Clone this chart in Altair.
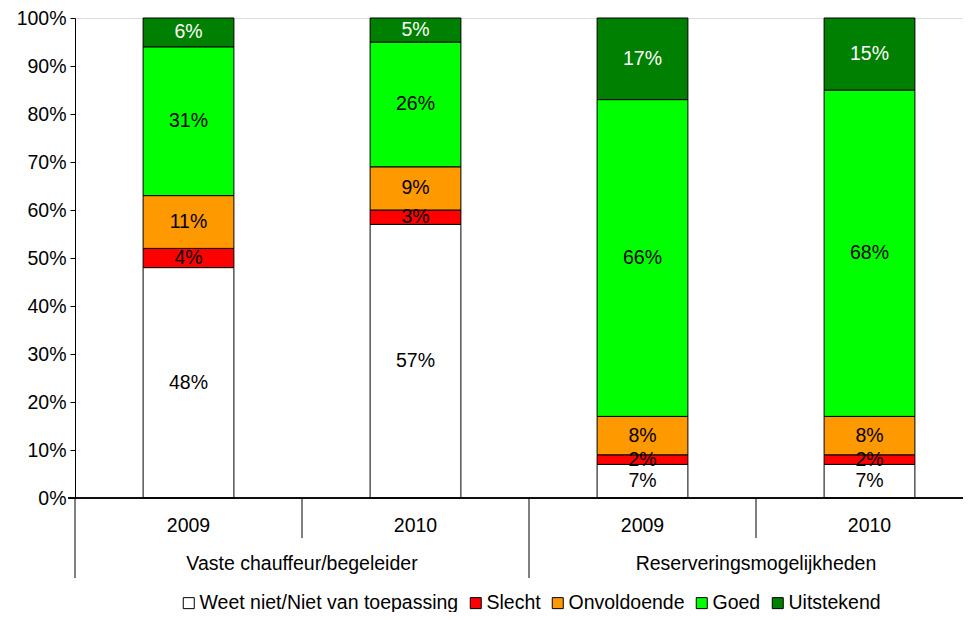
import altair as alt
import pandas as pd

groups = ["Vaste chauffeur/begeleider", "Vaste chauffeur/begeleider",
          "Reserveringsmogelijkheden", "Reserveringsmogelijkheden"]
years = ["2009", "2010", "2009", "2010"]
categories = ["Weet niet/Niet van toepassing", "Slecht", "Onvoldoende", "Goed", "Uitstekend"]
colors = ["#FFFFFF", "#FF0000", "#FF9900", "#00FF00", "#008000"]
text_colors = ["black", "black", "black", "black", "white"]

weet_niet = [48, 57, 7, 7]
slecht = [4, 3, 2, 2]
onvoldoende = [11, 9, 8, 8]
goed = [31, 26, 66, 68]
uitstekend = [6, 5, 17, 15]

series = [weet_niet, slecht, onvoldoende, goed, uitstekend]

rows = []
for i in range(4):
    for c, vals in enumerate(series):
        rows.append({
            "slot": i, "center": i + 0.5, "left": i + 0.3, "right": i + 0.7,
            "year": years[i], "group": groups[i],
            "cat": categories[c], "order": c, "value": vals[i],
            "label": f"{vals[i]}%", "tcol": text_colors[c],
        })
df = pd.DataFrame(rows)

long_sep = pd.DataFrame({"pos": [0, 2]})
short_sep = pd.DataFrame({"pos": [1, 3]})

year_df = pd.DataFrame({"center": [i + 0.5 for i in range(4)], "year": years})
group_df = pd.DataFrame({"center": [1.0, 3.0],
                         "group": ["Vaste chauffeur/begeleider", "Reserveringsmogelijkheden"]})

W, H = 888, 480
SLOT = 227.0
xscale = alt.Scale(domain=[0, W / SLOT], nice=False, zero=False)
yscale = alt.Scale(domain=[0, 100], nice=False)
FONT = "Liberation Sans"
FS = 19.5

yaxis = alt.Axis(values=list(range(0, 101, 10)), labelExpr="datum.value + '%'",
                 grid=False, tickSize=5, tickColor="black", domainColor="black",
                 labelColor="black", labelFontSize=FS, labelFont=FONT,
                 labelPadding=4, title=None, tickWidth=1, domainWidth=1)

base = alt.Chart(df).transform_stack(
    stack="value", groupby=["slot"], as_=["y0", "y1"],
    sort=[alt.SortField("order", order="ascending")]
)

bars = base.mark_bar(stroke="black", strokeWidth=1).encode(
    x=alt.X("left:Q", scale=xscale, axis=None),
    x2="right:Q",
    y=alt.Y("y0:Q", scale=yscale, axis=yaxis),
    y2="y1:Q",
    color=alt.Color("cat:N", scale=alt.Scale(domain=categories, range=colors),
                    legend=alt.Legend(title=None, orient="none", legendX=104, legendY=575,
                                      padding=0, labelLimit=500,
                                      direction="horizontal", symbolType="square",
                                      symbolSize=121, symbolStrokeColor="black",
                                      symbolStrokeWidth=1, labelFontSize=FS, labelFont=FONT,
                                      labelColor="black", columnPadding=7, labelOffset=1)),
)

labels = base.transform_calculate(mid="(datum.y0 + datum.y1) / 2").mark_text(
    fontSize=FS, font=FONT, baseline="middle"
).encode(
    x=alt.X("center:Q", scale=xscale, axis=None),
    y=alt.Y("mid:Q", scale=yscale, axis=yaxis),
    text="label:N",
    color=alt.Color("tcol:N", scale=None),
)

xline = alt.Chart(year_df).mark_rule(color="black", strokeWidth=1).encode(
    x=alt.value(-7), x2=alt.value(W), y=alt.value(H)
)

seps_long = alt.Chart(long_sep).mark_rule(color="black", strokeWidth=1).encode(
    x=alt.X("pos:Q", scale=xscale, axis=None), y=alt.value(H), y2=alt.value(H + 80)
)
seps_short = alt.Chart(short_sep).mark_rule(color="black", strokeWidth=1).encode(
    x=alt.X("pos:Q", scale=xscale, axis=None), y=alt.value(H), y2=alt.value(H + 40)
)

year_text = alt.Chart(year_df).mark_text(fontSize=FS, font=FONT, color="black",
                                         baseline="middle").encode(
    x=alt.X("center:Q", scale=xscale, axis=None), y=alt.value(H + 28), text="year:N"
)
group_text = alt.Chart(group_df).mark_text(fontSize=FS, font=FONT, color="black",
                                           baseline="middle").encode(
    x=alt.X("center:Q", scale=xscale, axis=None), y=alt.value(H + 66), text="group:N"
)

chart = alt.layer(bars, labels, xline, seps_long, seps_short, year_text, group_text).properties(
    width=W, height=H,
    autosize=alt.AutoSizeParams(type="none"),
    padding={"left": 67, "top": 10, "right": 0, "bottom": 114},
).configure_view(stroke=None).configure_axis(grid=False).configure(background="white")

chart.save("out.html", embed_options={"renderer": "svg", "actions": False})
